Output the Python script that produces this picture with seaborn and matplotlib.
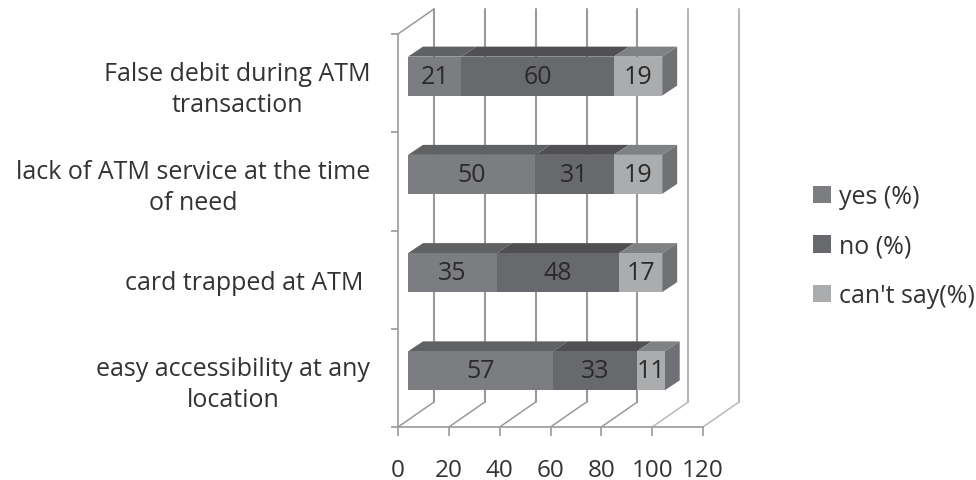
import matplotlib
matplotlib.use("Agg")
import matplotlib.pyplot as plt
import seaborn as sns
import numpy as np
from matplotlib.patches import Patch, Polygon
from matplotlib.transforms import Affine2D

categories = ["False debit during ATM\ntransaction",
              "lack of ATM service at the time\nof need",
              "card trapped at ATM ",
              "easy accessibility at any\nlocation"]
yes_pct = [21, 50, 35, 57]
no_pct = [60, 31, 48, 33]
cant_say_pct = [19, 19, 17, 11]
series_names = ["yes (%)", "no (%)", "can't say(%)"]
x_ticks = [0, 20, 40, 60, 80, 100, 120]

front_colors = ["#7c7d80", "#68696c", "#abacae"]
top_colors = ["#606163", "#505052", "#808183"]
side_color = "#707174"
grid_color = "#9a9a9a"
text_color = "#333333"

sns.set_style("white")
plt.rcParams["font.family"] = ["Open Sans", "DejaVu Sans"]

W, H = 976, 481
fig = plt.figure(figsize=(W / 100, H / 100), dpi=100)
# Axes box is the front plane of the pseudo-3D chart
L, R, T, B = 398, 703, 35, 428
ax = fig.add_axes([L / W, 1 - B / H, (R - L) / W, (B - T) / H])

BAR_H = 39 / 98.25
series = [np.array(yes_pct), np.array(no_pct), np.array(cant_say_pct)]
lefts = np.zeros(4)
starts = []
for vals, col in zip(series, front_colors):
    sns.barplot(x=vals, y=categories, left=lefts, color=col, width=BAR_H,
                saturation=1, ax=ax, orient="y", linewidth=0, zorder=4)
    starts.append(lefts.copy())
    lefts = lefts + vals

ax.set_xlim(0, 120)
ax.set_ylim(3.5, -0.5)
ax.set_xlabel("")
ax.set_ylabel("")

px_x = (R - L) / 120
px_y = (B - T) / 4
bar_shift = ax.transData + Affine2D().translate(10, 7)
wall_shift = ax.transData + Affine2D().translate(36, 25)

for patch in ax.patches:
    patch.set_transform(bar_shift)
    patch.set_clip_on(False)

# Depth of the extruded bars, expressed in data units
dx, dy = 15 / px_x, 10 / px_y
for s, (vals, start, tcol) in enumerate(zip(series, starts, top_colors)):
    for i in range(4):
        x0, x1 = start[i], start[i] + vals[i]
        y_top = i - BAR_H / 2
        ax.add_patch(Polygon([(x0, y_top), (x1, y_top), (x1 + dx, y_top - dy), (x0 + dx, y_top - dy)],
                             closed=True, facecolor=tcol, edgecolor="none",
                             transform=bar_shift, clip_on=False, zorder=3))
        ax.text(x0 + vals[i] / 2, i, str(vals[i]), transform=bar_shift, ha="center",
                va="center", fontsize=18, color="#2a2a2a", zorder=6)
for i in range(4):
    xe = lefts[i]
    y_top = i - BAR_H / 2
    y_bot = i + BAR_H / 2
    ax.add_patch(Polygon([(xe, y_top), (xe + dx, y_top - dy), (xe + dx, y_bot - dy), (xe, y_bot)],
                         closed=True, facecolor=side_color, edgecolor="none",
                         transform=bar_shift, clip_on=False, zorder=3))

# Back wall gridlines and floor diagonals
for tick in x_ticks:
    shade = "#b8b8b8" if tick >= 100 else grid_color
    ax.plot([tick, tick], [3.5, -0.5], color=shade, lw=1.5, transform=wall_shift,
            clip_on=False, zorder=1)
    ax.plot([tick, tick + 36 / px_x], [3.5, 3.5 - 25 / px_y], color=shade, lw=1.1,
            clip_on=False, zorder=1)
ax.plot([0, 36 / px_x], [-0.5, -0.5 - 25 / px_y], color=grid_color, lw=1.1, clip_on=False, zorder=1)

for side in ("top", "right"):
    ax.spines[side].set_visible(False)
for side in ("left", "bottom"):
    ax.spines[side].set_color(grid_color)
    ax.spines[side].set_linewidth(1.2)

ax.set_xticks(x_ticks)
ax.set_xticklabels([str(t) for t in x_ticks])
ax.set_yticks([-0.5, 0.5, 1.5, 2.5, 3.5], minor=True)
ax.set_yticks(range(4))
ax.set_yticklabels(categories, multialignment="center", linespacing=1.32)
ax.tick_params(axis="y", which="major", length=0, pad=20, labelsize=18, labelcolor=text_color)
ax.tick_params(axis="y", which="minor", left=True, length=5, width=1.2, color=grid_color)
ax.tick_params(axis="x", bottom=True, length=6.5, width=1.2, color=grid_color, pad=15.5,
               labelsize=17.5, labelcolor=text_color)

handles = [Patch(facecolor=c, edgecolor="none", label=n) for c, n in zip(front_colors, series_names)]
fig.legend(handles=handles, loc="center left", bbox_to_anchor=(813 / W, 1 - 247 / H), frameon=False,
           fontsize=18, labelcolor=text_color, handlelength=0.7, handleheight=0.7,
           handletextpad=0.35, labelspacing=0.98, borderpad=0, borderaxespad=0)

fig.savefig("out.png", dpi=100, facecolor="white")
